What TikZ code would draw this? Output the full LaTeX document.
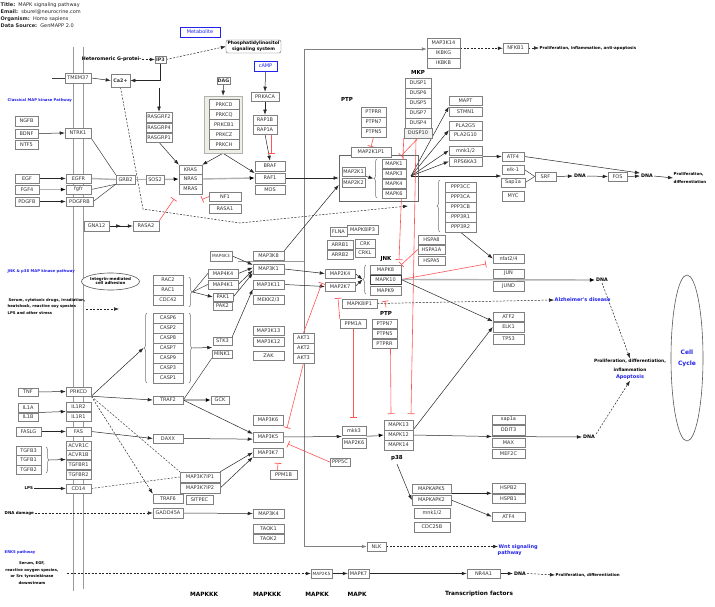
\documentclass[tikz,border=0pt]{standalone}
\usepackage{fontspec}
\usetikzlibrary{arrows.meta,decorations.pathreplacing,calc,shapes.geometric,backgrounds}
\newfontfamily\gf{DejaVu Sans}
\newcommand{\gfont}{\gf\fontsize{5}{6}\selectfont}
\newcommand{\sgfont}{\gf\fontsize{4.3}{5}\selectfont}
\newcommand{\bfont}{\gf\bfseries\fontsize{5.5}{6}\selectfont}
\newcommand{\dnafont}{\gf\bfseries\fontsize{4.8}{6}\selectfont}
\newcommand{\cafont}{\gf\bfseries\fontsize{4.8}{6}\selectfont}
\newcommand{\tfont}{\gf\bfseries\fontsize{4}{5}\selectfont}
\newcommand{\sfnt}{\gf\bfseries\fontsize{3.8}{6.7}\selectfont}
\newcommand{\lblfont}{\gf\bfseries\fontsize{3.8}{5}\selectfont}
\newcommand{\hfont}{\gf\fontsize{5}{6}\selectfont}
\newcommand{\hetfont}{\gf\bfseries\fontsize{4.8}{6}\selectfont}
\newcommand{\pisfont}{\gf\bfseries\fontsize{4.5}{5.5}\selectfont}
\newcommand{\colfont}{\gf\bfseries\fontsize{5.8}{7}\selectfont}
\newcommand{\pfont}{\gf\bfseries\fontsize{4.4}{5}\selectfont}
\newcommand{\bluefont}{\gf\bfseries\fontsize{5}{6}\selectfont}
\newcommand{\ccfont}{\gf\bfseries\fontsize{6}{11}\selectfont}
\definecolor{lblue}{RGB}{35,35,235}
\definecolor{pkcbg}{RGB}{238,238,228}
\definecolor{inhred}{RGB}{255,85,85}
\tikzset{
  gene/.style={draw=black!50, line width=0.5pt, fill=white, inner sep=0pt, font=\gfont, text=black!80},
  grpframe/.style={draw=black!60, line width=0.6pt, inner sep=0pt},
  arr/.style={draw=black!85, line width=0.5pt, -{Latex[length=5pt,width=3.6pt]}},
  ln/.style={draw=black!75, line width=0.5pt},
  gln/.style={draw=black!30, line width=1.4pt},
  garr/.style={draw=black!30, line width=1.4pt, -{Latex[length=5pt,width=4pt,color=black]}},
  dsh/.style={dash pattern=on 2pt off 1.5pt},
  inh/.style={draw=inhred, line width=0.6pt, -{Bar[width=7pt,line width=0.7pt]}},
  brc/.style={draw=black!55, line width=0.5pt, decorate, decoration={brace, amplitude=3pt}},
  memb/.style={draw=black!40, line width=0.6pt},
  dnat/.style={font=\dnafont, inner sep=1pt},
}
\newcommand{\gb}[7][]{\node[gene,#1,minimum width={#5-#3},minimum height={#6-#4}] (#2) at ({(#3+#5)/2},{(#4+#6)/2}) {#7};}
\begin{document}
\begin{tikzpicture}[x=1pt,y=-1pt]
\useasboundingbox (0,0) rectangle (715,607);
% ---------- header
\node[anchor=west, font=\hfont, inner sep=0, text=black!85] (h1) at (0.5,5) {\textbf{Title:}\ \ MAPK signaling pathway};
\node[anchor=west, font=\hfont, inner sep=0, text=black!85] (h2) at (0.5,12) {\textbf{Email:}\ \ sburel@neurocrine.com};
\node[anchor=west, font=\hfont, inner sep=0, text=black!85] (h3) at (0.5,19) {\textbf{Organism:}\ \ Homo sapiens};
\node[anchor=west, font=\hfont, inner sep=0, text=black!85] (h4) at (0.5,25.5) {\textbf{Data Source:}\ \ GenMAPP 2.0};
\gb[draw=lblue,text=lblue]{meta}{180}{27}{220}{37}{Metabolite}
% ---------- frames
\node[grpframe, draw=black!30, fill=pkcbg, minimum width=38, minimum height=57] (PKCf) at (223,124.5) {};
\node[grpframe, minimum width=79, minimum height=46] (bigbox) at (378.5,178) {};
% ---------- top area
\gb[font=\cafont]{IP3}{155}{56}{166}{63}{IP3}
\gb[font=\cafont]{Ca}{111}{74}{130}{87}{Ca2+}
\gb[font=\cafont]{DAG}{217}{77}{230}{84}{DAG}
\node[draw=black!60, rounded corners=2pt, font=\pisfont, align=center, inner sep=1pt, fill=white, minimum width=55, minimum height=13] (PIS) at (253.5,46.5) {Phosphatidylinositol\\signaling system};
\node[anchor=east, font=\hetfont, inner sep=0.5pt] (het) at (142,59.5) {Heteromeric G-protei-};
\gb[draw=lblue,text=lblue]{cAMP}{254}{61}{277}{71}{cAMP}
\gb{TMEM37}{65}{73}{91}{83}{TMEM37}
\gb{NGFB}{15}{116}{38}{126}{NGFB}
\gb{BDNF}{15}{129}{38}{138}{BDNF}
\gb{NTF5}{15}{140}{38}{149}{NTF5}
\gb{NTRK1}{65}{128}{91}{138}{NTRK1}
\gb{EGF}{15}{174}{39}{183}{EGF}
\gb{FGF4}{15}{185}{39}{194}{FGF4}
\gb{PDGFB}{15}{197}{39}{206}{PDGFB}
\gb{EGFR}{66}{174}{91}{183}{EGFR}
\gb{fgfr}{66}{185}{91}{194}{fgfr}
\gb{PDGFRB}{66}{197}{93}{206}{PDGFRB}
\gb{GRB2}{116}{175}{135}{184}{GRB2}
\gb{SOS2}{146}{175}{164}{184}{SOS2}
\gb{RASGRF2}{146}{112}{172}{122}{RASGRF2}
\gb{RASGRP4}{146}{123}{172}{132}{RASGRP4}
\gb{RASGRP1}{146}{133}{172}{142}{RASGRP1}
\gb{KRAS}{179}{165}{202}{174}{KRAS}
\gb{NRAS}{179}{174}{202}{184}{NRAS}
\gb{MRAS}{179}{184}{202}{194}{MRAS}
\gb{NF1}{209}{192}{241}{201}{NF1}
\gb{RASA1}{209}{204}{241}{213}{RASA1}
\gb{GNA12}{84}{221}{109}{231}{GNA12}
\gb{RASA2}{133}{221}{159}{231}{RASA2}
\gb{PRKCD}{209}{99.5}{239}{109.5}{PRKCD}
\gb{PRKCQ}{209}{109.5}{239}{119.5}{PRKCQ}
\gb{PRKCB1}{209}{119.5}{239}{129.5}{PRKCB1}
\gb{PRKCZ}{209}{129.5}{239}{139.5}{PRKCZ}
\gb{PRKCH}{209}{139.5}{239}{149.5}{PRKCH}
\gb{PRKACA}{251}{92}{279}{101}{PRKACA}
\gb{RAP1B}{253}{115}{277}{125}{RAP1B}
\gb{RAP1A}{253}{125}{277}{134}{RAP1A}
\gb{BRAF}{255}{161}{285}{171}{BRAF}
\gb{RAF1}{255}{173}{285}{183}{RAF1}
\gb{MOS}{255}{185}{285}{194}{MOS}
\gb{MAP2K1}{342}{167}{365}{176}{MAP2K1}
\gb{MAP2K2}{342}{178}{365}{187}{MAP2K2}
\gb{MAPK1}{382}{159}{406}{168}{MAPK1}
\gb{MAPK3}{382}{169}{406}{178}{MAPK3}
\gb{MAPK4}{382}{179}{406}{188}{MAPK4}
\gb{MAPK6}{382}{189}{406}{198}{MAPK6}
\gb{MAP2K1P1}{351}{147}{391}{157}{MAP2K1P1}
\gb{PTPRR}{361}{107}{386}{117}{PTPRR}
\gb{PTPN7}{361}{117}{386}{127}{PTPN7}
\gb{PTPN5}{361}{127}{386}{137}{PTPN5}
\gb{DUSP1}{405}{78}{431}{88}{DUSP1}
\gb{DUSP6}{405}{88}{431}{98}{DUSP6}
\gb{DUSP5}{405}{98}{431}{108}{DUSP5}
\gb{DUSP7}{405}{108}{431}{118}{DUSP7}
\gb{DUSP4}{405}{118}{431}{128}{DUSP4}
\gb[fill=black!5]{DUSP10}{404}{128}{432}{138}{DUSP10}
\gb{MAP3K14}{427}{38}{460}{48}{MAP3K14}
\gb{IKBKG}{427}{48}{460}{58}{IKBKG}
\gb{IKBKB}{427}{58}{460}{68}{IKBKB}
\gb{NFKB1}{503}{43}{528}{53}{NFKB1}
\gb{MAPT}{449}{96}{482}{105}{MAPT}
\gb{STMN1}{449}{107}{482}{116}{STMN1}
\gb{PLA2G5}{449}{121}{482}{130}{PLA2G5}
\gb{PLA2G10}{449}{130}{482}{140}{PLA2G10}
\gb{mnk12}{449}{146}{482}{155}{mnk1/2}
\gb{RPS6KA3}{449}{157}{482}{166}{RPS6KA3}
\gb{ATF4}{502}{152}{524}{161}{ATF4}
\gb{elk1}{502}{165}{524}{174}{elk-1}
\gb{Sap1a}{501}{178}{525}{187}{Sap1a}
\gb{MYC}{502}{191}{524}{201}{MYC}
\gb{SRF}{535}{172}{556}{181}{SRF}
\gb{FOS}{608}{172}{627}{181}{FOS}
\gb{PPP3CC}{445}{182}{476}{192}{PPP3CC}
\gb{PPP3CA}{445}{192}{476}{202}{PPP3CA}
\gb{PPP3CB}{445}{202}{476}{212}{PPP3CB}
\gb{PPP3R1}{445}{212}{476}{222}{PPP3R1}
\gb{PPP3R2}{445}{222}{476}{232}{PPP3R2}
\gb{nfat}{493}{254}{524}{263}{nfat2/4}
\gb{JUN}{493}{269}{524}{278}{JUN}
\gb{JUND}{493}{281}{524}{291}{JUND}
\gb{ATF2}{493}{312}{524}{321}{ATF2}
\gb{ELK1}{493}{322}{524}{332}{ELK1}
\gb{TP53}{493}{334}{524}{344}{TP53}
\gb{sap1a}{492}{415}{525}{424}{sap1a}
\gb{DDIT3}{492}{425}{525}{435}{DDIT3}
\gb{MAX}{492}{438}{525}{447}{MAX}
\gb{MEF2C}{492}{449}{525}{458}{MEF2C}
\gb{HSPB2}{492}{483}{525}{493}{HSPB2}
\gb{HSPB1}{492}{494}{525}{503}{HSPB1}
\gb{ATF4b}{492}{512}{525}{521}{ATF4}
\gb{NR4A1}{467}{569}{500}{578}{NR4A1}
\gb{HSPA8}{418}{235}{445}{244}{HSPA8}
\gb{HSPA1A}{418}{245}{445}{254}{HSPA1A}
\gb{HSPA5}{418}{256}{445}{265}{HSPA5}
\gb{FLNA}{330}{227}{347}{236}{FLNA}
\gb{MAPK8IP3}{347}{225}{378}{234}{MAPK8IP3}
\gb{ARRB1}{327}{240}{353}{249}{ARRB1}
\gb{ARRB2}{327}{250}{353}{259}{ARRB2}
\gb{CRK}{355}{239}{375}{248}{CRK}
\gb{CRKL}{355}{248}{375}{257}{CRKL}
\gb{MAPK8}{370}{265}{401}{274}{MAPK8}
\gb[draw=black!75]{MAPK10}{370}{275}{401}{284}{MAPK10}
\gb{MAPK9}{370}{286}{401}{295}{MAPK9}
\gb{MAP2K4}{325}{269}{355}{278}{MAP2K4}
\gb{MAP2K7}{325}{282}{355}{291}{MAP2K7}
\gb{MAP3K8}{253}{251}{284}{260}{MAP3K8}
\gb{MAP3K1}{253}{264}{284}{274}{MAP3K1}
\gb{MAP3K11}{253}{280}{284}{289}{MAP3K11}
\gb{MEKK23}{253}{295}{284}{304}{MEKK2/3}
\gb[font=\sgfont]{MAP4K3}{210}{251}{232}{261}{MAP4K3}
\gb{MAP4K4}{208}{269}{238}{278}{MAP4K4}
\gb{MAP4K1}{208}{280}{238}{289}{MAP4K1}
\gb{RAC2}{153}{275}{183}{285}{RAC2}
\gb{RAC1}{153}{285}{183}{295}{RAC1}
\gb{CDC42}{153}{295}{183}{305}{CDC42}
\gb{PAK1}{213}{293}{233}{301}{PAK1}
\gb{PAK2}{213}{302}{232}{310}{PAK2}
\gb{CASP6}{153}{313}{183}{323}{CASP6}
\gb{CASP2}{153}{323}{183}{333}{CASP2}
\gb{CASP8}{153}{333}{183}{343}{CASP8}
\gb{CASP7}{153}{343}{183}{353}{CASP7}
\gb{CASP9}{153}{353}{183}{363}{CASP9}
\gb{CASP3}{153}{363}{183}{373}{CASP3}
\gb{CASP1}{153}{373}{183}{383}{CASP1}
\gb{STK3}{213}{337}{232}{345}{STK3}
\gb{MINK1}{212}{350}{232}{358}{MINK1}
\gb{MAPK8IP1}{342}{299}{377}{308}{MAPK8IP1}
\gb{PPM1A}{340}{319}{366}{328}{PPM1A}
\gb{PTPN7b}{372}{319}{397}{328}{PTPN7}
\gb{PTPN5b}{372}{329}{397}{338}{PTPN5}
\gb{PTPRRb}{372}{339}{397}{348}{PTPRR}
\gb{MAP3K13}{253}{326}{284}{335}{MAP3K13}
\gb{MAP3K12}{253}{337}{284}{346}{MAP3K12}
\gb{ZAK}{253}{351}{284}{360}{ZAK}
\gb{AKT1}{293}{333}{314}{343}{AKT1}
\gb{AKT2}{293}{343}{314}{353}{AKT2}
\gb{AKT3}{293}{353}{314}{363}{AKT3}
\gb{MAP3K6}{253}{415}{283}{425}{MAP3K6}
\gb{MAP3K5}{253}{432}{283}{442}{MAP3K5}
\gb{MAP3K7}{253}{448}{283}{457}{MAP3K7}
\gb{mkk3}{342}{426}{366}{435}{mkk3}
\gb{MAP2K6}{342}{438}{366}{448}{MAP2K6}
\gb{MAPK13}{384}{420}{413}{430}{MAPK13}
\gb{MAPK12}{384}{430}{413}{440}{MAPK12}
\gb{MAPK14}{384}{440}{413}{450}{MAPK14}
\gb{PPP5C}{330}{458}{350}{466}{PPP5C}
\gb{PPM1B}{270}{470}{297}{479}{PPM1B}
\gb{MAPKAPK5}{412}{484}{451}{493}{MAPKAPK5}
\gb{MAPKAPK2}{412}{495}{451}{505}{MAPKAPK2}
\gb{mnk12b}{414}{508}{450}{518}{mnk1/2}
\gb{CDC25B}{414}{522}{450}{532}{CDC25B}
\gb{NLK}{367}{542}{386}{551}{NLK}
\gb[font=\sgfont]{MAP2K5}{311}{569}{332}{578}{MAP2K5}
\gb{MAPK7}{348}{569}{369}{578}{MAPK7}
\gb{MAP3K4}{253}{509}{284}{518}{MAP3K4}
\gb{TAOK1}{253}{524}{284}{533}{TAOK1}
\gb{TAOK2}{253}{534}{284}{543}{TAOK2}
\gb{TNF}{18}{388}{38}{396}{TNF}
\gb{PRKCD2}{66}{387}{91}{396}{PRKCD}
\gb{IL1A}{18}{403}{38}{412}{IL1A}
\gb{IL1B}{18}{413}{38}{421}{IL1B}
\gb{IL1R2}{66}{402}{91}{411}{IL1R2}
\gb{IL1R1}{66}{412}{91}{421}{IL1R1}
\gb{FASLG}{16}{427}{41}{436}{FASLG}
\gb{FAS}{66}{427}{91}{436}{FAS}
\gb{TGFB3}{16}{446}{41}{455}{TGFB3}
\gb{TGFB1}{16}{455}{41}{465}{TGFB1}
\gb{TGFB2}{16}{465}{41}{474}{TGFB2}
\gb{ACVR1C}{66}{441}{91}{450}{ACVR1C}
\gb{ACVR1B}{66}{450}{91}{459}{ACVR1B}
\gb{TGFBR1}{66}{460}{91}{469}{TGFBR1}
\gb{TGFBR2}{66}{470}{91}{479}{TGFBR2}
\gb{CD14}{66}{484}{91}{493}{CD14}
\gb{TRAF2}{153}{396}{183}{404}{TRAF2}
\gb{GCK}{211}{396}{229}{404}{GCK}
\gb{DAXX}{153}{434}{183}{443}{DAXX}
\gb{MAP3K7IP1}{180}{472}{220}{482}{MAP3K7IP1}
\gb{MAP3K7IP2}{180}{483}{220}{493}{MAP3K7IP2}
\gb{TRAF6}{153}{494}{183}{503}{TRAF6}
\gb{SITPEC}{186}{495}{213}{504}{SITPEC}
\gb{GADD45A}{153}{508}{183}{518}{GADD45A}
% ---------- braces
\draw[brc] (377,198) -- (377,159);
\draw[brc] (366,294) -- (366,265);
\draw[brc] (189,277) -- (189,307);
\draw[brc] (147,383) -- (147,313);
\draw[brc] (189,313) -- (189,383);
\draw[brc] (440,232) -- (440,180);
\draw[brc] (46,447) -- (46,473);
\coordinate (b1tip) at (373.5,178.5);
\coordinate (jbt) at (362.5,279.5);
\coordinate (racT) at (192.5,292);
\coordinate (casL) at (143.5,348);
\coordinate (casR) at (192.5,348);
\coordinate (tgfT) at (49.5,460);
% ---------- labels
\node[font=\bfont] (mkp) at (418,72) {MKP};
\node[font=\bfont] (ptp1) at (347,99) {PTP};
\node[font=\bfont] (jnk) at (386,259) {JNK};
\node[font=\bfont] (ptp2) at (386,313) {PTP};
\node[font=\bfont] (p38) at (397,458) {p38};
\node[dnat] (DNA1) at (580,176) {DNA};
\node[dnat] (DNA2) at (647,176) {DNA};
\node[dnat] (DNA3) at (602,280) {DNA};
\node[dnat] (DNA4) at (589,437) {DNA};
\node[dnat] (DNA5) at (520,573.5) {DNA};
\node[anchor=west, font=\tfont, inner sep=0.5pt] (prol1) at (539,48) {Proliferation, inflammation, anti-apoptosis};
\node[anchor=west, font=\tfont, inner sep=0.5pt] (prol2a) at (673,174) {Proliferation,};
\node[anchor=west, font=\tfont, inner sep=0.5pt] (prol2b) at (673,182) {differentiation};
\node[font=\pfont, inner sep=0.5pt] (prol3) at (630,361) {Proliferation, differentiation,};
\node[font=\pfont, inner sep=0.5pt] (infl) at (630,370) {inflammation};
\node[font=\bluefont, text=lblue, inner sep=0.5pt] (apop) at (630,377.5) {Apoptosis};
\node[anchor=west, font=\bluefont, text=lblue, inner sep=0.5pt] (alz) at (554,300) {Alzheimer's disease};
\node[anchor=west, font=\bluefont, text=lblue, inner sep=0.5pt] (wnt) at (498,547) {Wnt signaling};
\node[anchor=west, font=\bluefont, text=lblue, inner sep=0.5pt] (wnt2) at (497,553.5) {pathway};
\node[anchor=west, font=\tfont, inner sep=0.5pt] (prol4) at (555,575) {Proliferation, differentiation};
\node[draw=black!65, line width=0.6pt, ellipse, minimum width=32, minimum height=166, inner sep=0pt, font=\ccfont, text=lblue, align=center] (cc) at (687,358) {Cell\\Cycle};
\node[draw=black!65, line width=0.6pt, ellipse, minimum width=49, minimum height=17, inner sep=0pt, font=\tfont, align=center, fill=white] (integ) at (110.5,281.5) {Integrin-mediated\\[-1pt]cell adhesion};
\node[anchor=west, font=\lblfont, text=lblue, inner sep=0.5pt] (clas) at (7,100) {Classical MAP kinase Pathway};
\node[anchor=west, font=\lblfont, text=lblue, inner sep=0.5pt] (jnkp) at (7,271) {JNK \& p38 MAP kinase pathway};
\node[anchor=west, font=\lblfont, text=lblue, inner sep=0.5pt] (erk5) at (4,552) {ERK5 pathway};
\node[anchor=west, font=\sfnt, inner sep=0.5pt] (ser1) at (8,300) {Serum, cytotoxic drugs, irradiation,};
\node[anchor=west, font=\sfnt, inner sep=0.5pt] (ser2) at (7,306.5) {heatshock, reactive oxy species};
\node[anchor=west, font=\sfnt, inner sep=0.5pt] (ser3) at (7,313) {LPS and other stress};
\node[font=\sfnt, align=center, inner sep=0.5pt] (ser4) at (32,573) {Serum, EGF,\\reactive oxygen species,\\or Src tyrosinkinase\\downstream};
\node[anchor=west, font=\tfont, inner sep=0.5pt] (LPS) at (24,488.5) {LPS};
\node[anchor=west, font=\tfont, inner sep=0.5pt] (dmg) at (4,513) {DNA damage};
\node[font=\colfont] (c1) at (204,594) {MAPKKK};
\node[font=\colfont] (c2) at (267,594) {MAPKKK};
\node[font=\colfont] (c3) at (317,594) {MAPKK};
\node[font=\colfont] (c4) at (357,594) {MAPK};
\node[font=\colfont] (c5) at (479,594) {Transcription factors};
% ---------- coordinates
\coordinate (m1t) at (73,47); \coordinate (m1b) at (73,591);
\coordinate (m2t) at (83,47); \coordinate (m2b) at (83,589);
\coordinate (vt) at (304,49); \coordinate (vb) at (304,546.5);
\coordinate (hl1) at (238,261); \coordinate (hl2) at (304,261);
\coordinate (tmL) at (52,78);
\coordinate (rgIn) at (159,88);
\coordinate (caEnd) at (408,206);
\coordinate (mapkR) at (411,176);
\coordinate (rapT) at (271,154);
\coordinate (nfT) at (209,196.5);
\coordinate (mrT) at (202,199.5);
\coordinate (rasaT) at (174,199);
\coordinate (d1T) at (401,156);
\coordinate (jnkT) at (399,260);
\coordinate (p13a) at (411,414);
\coordinate (p13b) at (391,414);
\coordinate (nfatT) at (486,264);
\coordinate (akT) at (322,283);
\coordinate (ak3T) at (287,428);
\coordinate (pmT) at (353,418);
\coordinate (pm2T) at (338,298);
\coordinate (ptpT) at (385,301);
\coordinate (pp5T) at (288,444);
\coordinate (pbT) at (278,463);
\coordinate (sj1) at (86,309); \coordinate (sj2) at (119,309);
\coordinate (e5) at (67,573.5);
% ---------- connectors (behind nodes)
\begin{scope}[on background layer]
\fill[white] (0,0) rectangle (715,607);
\draw[memb] (m1t) -- (m1b);
\draw[memb] (m2t) -- (m2b);
\draw[arr, draw=black!50, line width=0.7pt] (vt) -- (vt -| IKBKG.west);
\draw[arr, draw=black!50, line width=0.7pt] (vt) -- (vb) -- (NLK.west);
\draw[draw=black!40, line width=0.6pt] (hl1) -- (hl2);
% top
\draw[arr,dsh] (het.east) -- (IP3.west);
\draw[arr,dsh] (IP3.east) -- (PIS.west);
\draw[arr] (IP3.south) |- (Ca.east);
\draw[ln] (tmL) -- (TMEM37.west);
\draw[arr] (TMEM37.east) -- (Ca.west);
\draw[arr] (rgIn) -- (RASGRF2.north);
\draw[arr] (DAG.south) -- (PKCf.north);
\draw[arr] (cAMP.south) -- (PRKACA.north);
\draw[arr] (PRKACA.south) -- (RAP1B.north);
\draw[arr] (RAP1A.south) -- (BRAF.north);
\draw[inh] ($(RAP1A.south)+(6,0)$) -- (rapT);
\draw[arr,dsh] (Ca.south) -- (143,209) -- (240,223) -- (caEnd);
% receptors
\draw[arr] (BDNF.east) -- (NTRK1.west);
\draw[ln] (NTRK1.south east) -- (GRB2.north west);
\draw[arr] (EGF.east) -- (EGFR.west);
\draw[garr] (FGF4.east) -- (fgfr.west);
\draw[arr] (PDGFB.east) -- (PDGFRB.west);
\draw[gln] (EGFR.east) -- (GRB2.west);
\draw[ln] (fgfr.east) -- (GRB2.south west);
\draw[ln] (PDGFRB.east) -- (GRB2.south west);
\draw[gln] (GRB2.east) -- (SOS2.west);
\draw[garr] (SOS2.east) -- (NRAS.west);
\draw[arr] (RASGRP1.south) -- (KRAS.north west);
\draw[arr] (PKCf.south) -- (KRAS.north east);
\draw[arr] (PKCf.south) -- (RAF1.162);
\draw[garr] (NRAS.east) -- (RAF1.west);
\draw[inh] (nfT) -- (mrT);
\draw[inh] (RASA2.north east) -- (rasaT);
\draw[arr] (GNA12.east) -- ($(GNA12.east)!0.5!(RASA2.west)$);
\draw[arr] (GNA12.east) -- (RASA2.west);
% ERK
\draw[arr] (RAF1.east) -- (bigbox.west);
\draw[arr] (MAP3K8.north east) -- (bigbox.190);
\draw[arr] (MAP2K1.south east) -- (b1tip);
\draw[arr] (mapkR) -- (STMN1.north west);
\draw[arr] (mapkR) -- (PLA2G5.south west);
\draw[arr] (mapkR) -- (mnk12.west);
\draw[arr] (mapkR) -- (RPS6KA3.west);
\draw[arr] (mapkR) -- ($(elk1.south west)!0.5!(Sap1a.north west)$);
\draw[arr] (RPS6KA3.north east) -- (ATF4.west);
\draw[ln] (elk1.east) -- (SRF.west);
\draw[ln] (Sap1a.east) -- (SRF.west);
\draw[arr] (SRF.east) -- (DNA1.west);
\draw[arr] (DNA1.east) -- (FOS.west);
\draw[arr] (FOS.east) -- (DNA2.west);
\draw[arr] (DNA2.east) -- ($(prol2a.west)!0.5!(prol2b.west)$);
\draw[arr] (ATF4.east) -- (DNA2.north west);
\draw[inh] (DUSP10.south) -- (d1T);
\draw[inh] (DUSP10.south west) -- (jnkT);
\draw[inh] ($(DUSP10.south)+(-2,0)$) -- (p13a);
\draw[inh] (PTPN5.south) -- (MAP2K1P1.north);
\draw[arr,dsh] (MAP3K14.south east) -- (MAP3K14.south east -| NFKB1.west);
\draw[arr,dsh] (NFKB1.east) -- (prol1.west);
% JNK
\draw[arr] (PPP3R2.south) -- (nfat.west);
\draw[inh] (MAPK10.east) -- (nfatT);
\draw[inh] (HSPA1A.west) -- (MAPK8.north east);
\draw[garr] (MAPK10.east) -- (DNA3.west);
\draw[arr,dsh] (DNA3.south) -- (prol3.north);
\draw[arr] (MAPK10.east) -- (ATF2.south west);
\draw[arr,dsh] (MAPK8IP1.east) -- (alz.west);
\draw[arr] (MAP3K1.east) -- (MAP2K4.west);
\draw[arr] (MAP3K11.east) -- (MAP2K7.west);
\draw[arr] (MAP2K4.east) -- (jbt);
\draw[arr] (MAP2K7.east) -- (jbt);
\draw[inh] (AKT1.north) -- (akT);
\draw[inh] (AKT3.south) -- (ak3T);
\draw[inh] (PPM1A.south) -- (pmT);
\draw[inh] (PPM1A.north west) -- (pm2T);
\draw[inh] (ptp2.north) -- (ptpT);
\draw[inh] ($(PTPRRb.south)+(6,0)$) -- (p13b);
\draw[arr] (MAP4K3.east) -- (MAP3K1.165);
\draw[arr] (MAP4K4.east) -- (MAP3K1.175);
\draw[arr] (MAP4K1.east) -- (MAP3K1.185);
\draw[arr] (PAK1.east) -- (MAP3K1.195);
\draw[arr] (STK3.north east) -- (MAP3K11.south west);
\draw[ln] (racT) -- (MAP4K4.west);
\draw[ln] (racT) -- (MAP4K1.west);
\draw[arr] (racT) -- (PAK1.west);
\draw[arr,dsh] (sj1) -- (sj2);
% p38
\draw[arr] (MAP3K5.east) -- ($(mkk3.south west)!0.5!(MAP2K6.north west)$);
\draw[garr] ($(mkk3.south east)!0.5!(MAP2K6.north east)$) -- (MAPK12.west);
\draw[arr] (MAPK12.east) -- ($(DDIT3.south west)!0.5!(MAX.north west)$);
\draw[arr] ($(DDIT3.south west)!0.5!(MAX.north west)$) -- (DNA4.west);
\draw[arr,dsh] (DNA4.north east) -- (apop.south);
\draw[arr] (MAPK12.north east) -- (ELK1.west);
\draw[arr] (p38.south) -- (MAPKAPK2.west);
\draw[arr] (MAPKAPK5.south east) -- (HSPB2.south west);
\draw[arr] (MAPKAPK2.east) -- (ATF4b.west);
\draw[arr,dsh] (NLK.east) -- (wnt.west |- NLK.east);
% ERK5
\draw[arr,dsh] (e5) -- (MAP2K5.west);
\draw[arr] (MAP2K5.east) -- (MAPK7.west);
\draw[arr] (MAPK7.east) -- (NR4A1.west);
\draw[arr] (NR4A1.east) -- (DNA5.west);
\draw[arr,dsh] (DNA5.east) -- (prol4.west);
% left receptors
\draw[arr] (TNF.east) -- (PRKCD2.west);
\draw[arr] ($(IL1A.south east)!0.5!(IL1B.north east)$) -- ($(IL1R2.south west)!0.5!(IL1R1.north west)$);
\draw[arr] (FASLG.east) -- (FAS.west);
\draw[arr] (tgfT) -- ($(ACVR1B.south west)!0.5!(TGFBR1.north west)$);
\draw[arr] (LPS.east) -- (CD14.west);
\draw[arr,dsh] (dmg.east) -- (GADD45A.west);
\draw[arr] (PRKCD2.south east) -- (casL);
\draw[arr] (PRKCD2.south east) -- (TRAF2.west);
\draw[arr,dsh] (PRKCD2.south east) -- (TRAF6.north west);
\draw[ln,dsh] (PRKCD2.south east) -- (MAP3K7IP1.north west);
\draw[arr] (casR) -- ($(STK3.south west)!0.5!(MINK1.north west)$);
\draw[garr] (TRAF2.east) -- (GCK.west);
\draw[ln] (TRAF2.east) -- (MINK1.south west);
\draw[arr] (TRAF2.east) -- (MAP3K5.168);
\draw[arr] (FAS.east) -- (DAXX.west);
\draw[arr] (DAXX.east) -- (MAP3K5.188);
\draw[ln,dsh] (CD14.east) -- (MAP3K7IP1.west);
\draw[arr] (MAP3K7IP1.north east) -- (MAP3K7.west);
\draw[arr] (MAP3K7IP2.east) -- (MAP3K7.south west);
\draw[inh] (PPP5C.west) -- (pp5T);
\draw[inh] ($(PPM1B.north)+(-6,0)$) -- (pbT);
\draw[arr] (GADD45A.east) -- (MAP3K4.west);
\end{scope}
\end{tikzpicture}
\end{document}
